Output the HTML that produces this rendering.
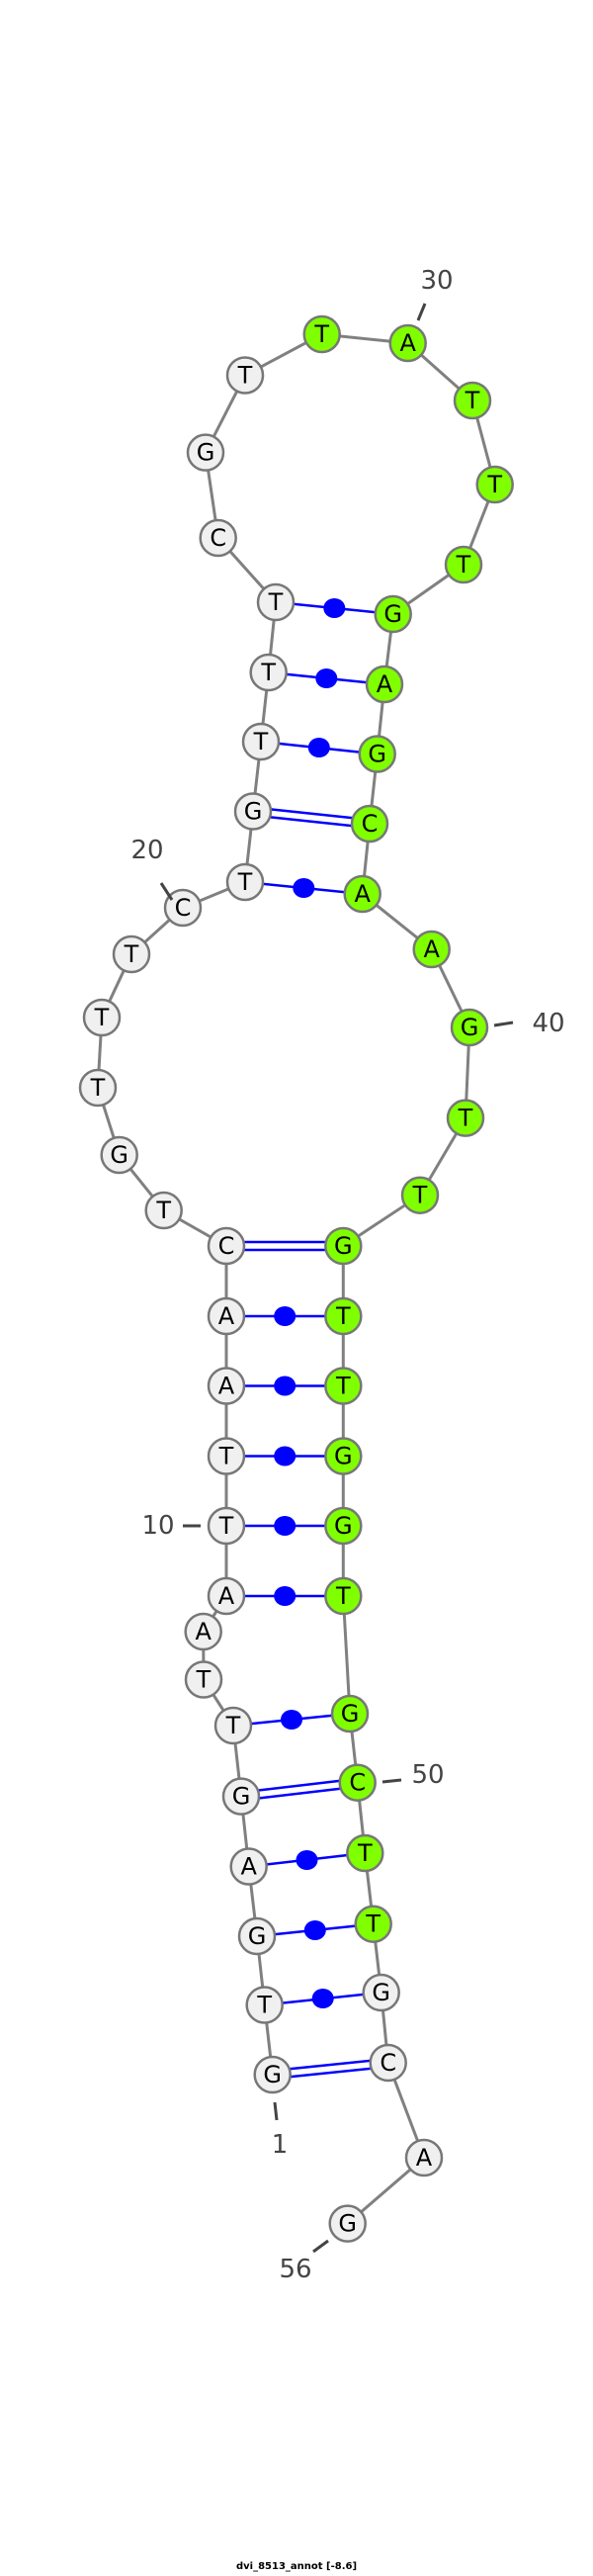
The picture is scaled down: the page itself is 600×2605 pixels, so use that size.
<!DOCTYPE html>
<html><head><meta charset="utf-8"><style>html,body{margin:0;padding:0;background:#fff}svg{display:block}</style></head><body>
<svg width="600" height="2605" viewBox="0 0 600 2605" xmlns="http://www.w3.org/2000/svg" font-family="'DejaVu Sans','Liberation Sans',sans-serif">
<g stroke="#808080" stroke-width="3" fill="none">
<polyline points="275.7,2098 267.7,2027.5 260,1958 251.7,1887.5 244,1816.6 236,1745 206,1698.5 205.7,1650 229,1614 229,1543 229,1472.5 229,1401.5 229,1331 229,1260 165.7,1224 120.7,1168 99,1100 103,1029 133,965 185,918 248,892 256,820.5 264,750 271.7,680 279,609 220.7,544 208,457.6 248,379.5 325.7,338 412.7,347 478,405 500.7,490 469,571 397.7,621 389,692 381.7,762.5 374,833 366.7,904 436.7,960 475,1039 471,1130.6 425,1208.7 347.3,1260 347.3,1331 347.3,1401.5 347.3,1472.5 347.3,1543 347.3,1614 354,1733 361.7,1802.7 369.3,1874 377.7,1945.7 385.7,2015 392.7,2086 429,2182 351.7,2248.6"/>
</g>
<g stroke="#0000ff" stroke-width="2.5" fill="none">
<line x1="267.7" y1="2027.5" x2="385.7" y2="2015"/>
<line x1="260" y1="1958" x2="377.7" y2="1945.7"/>
<line x1="251.7" y1="1887.5" x2="369.3" y2="1874"/>
<line x1="236" y1="1745" x2="354" y2="1733"/>
<line x1="229" y1="1614" x2="347.3" y2="1614"/>
<line x1="229" y1="1543" x2="347.3" y2="1543"/>
<line x1="229" y1="1472.5" x2="347.3" y2="1472.5"/>
<line x1="229" y1="1401.5" x2="347.3" y2="1401.5"/>
<line x1="229" y1="1331" x2="347.3" y2="1331"/>
<line x1="248" y1="892" x2="366.7" y2="904"/>
<line x1="264" y1="750" x2="381.7" y2="762.5"/>
<line x1="271.7" y1="680" x2="389" y2="692"/>
<line x1="279" y1="609" x2="397.7" y2="621"/>
<line x1="275.7" y1="2094" x2="392.7" y2="2082"/><line x1="275.7" y1="2102" x2="392.7" y2="2090"/>
<line x1="244" y1="1812.6" x2="361.7" y2="1798.7"/><line x1="244" y1="1820.6" x2="361.7" y2="1806.7"/>
<line x1="229" y1="1256" x2="347.3" y2="1256"/><line x1="229" y1="1264" x2="347.3" y2="1264"/>
<line x1="256" y1="816.5" x2="374" y2="829"/><line x1="256" y1="824.5" x2="374" y2="837"/>
</g>
<g fill="#0000ff">
<ellipse cx="326.7" cy="2021" rx="11" ry="10"/>
<ellipse cx="318.8" cy="1952" rx="11" ry="10"/>
<ellipse cx="310.5" cy="1881" rx="11" ry="10"/>
<ellipse cx="295" cy="1739" rx="11" ry="10"/>
<ellipse cx="288.2" cy="1614" rx="11" ry="10"/>
<ellipse cx="288.2" cy="1543" rx="11" ry="10"/>
<ellipse cx="288.2" cy="1472.5" rx="11" ry="10"/>
<ellipse cx="288.2" cy="1401.5" rx="11" ry="10"/>
<ellipse cx="288.2" cy="1331" rx="11" ry="10"/>
<ellipse cx="307.3" cy="898" rx="11" ry="10"/>
<ellipse cx="322.8" cy="756" rx="11" ry="10"/>
<ellipse cx="330.3" cy="686" rx="11" ry="10"/>
<ellipse cx="338.3" cy="615" rx="11" ry="10"/>
</g>
<g stroke="#777" stroke-width="2.5">
<g fill="#f0f0f0">
<circle cx="275.7" cy="2098" r="18"/><circle cx="267.7" cy="2027.5" r="18"/><circle cx="260" cy="1958" r="18"/><circle cx="251.7" cy="1887.5" r="18"/><circle cx="244" cy="1816.6" r="18"/><circle cx="236" cy="1745" r="18"/><circle cx="206" cy="1698.5" r="18"/><circle cx="205.7" cy="1650" r="18"/><circle cx="229" cy="1614" r="18"/><circle cx="229" cy="1543" r="18"/><circle cx="229" cy="1472.5" r="18"/><circle cx="229" cy="1401.5" r="18"/><circle cx="229" cy="1331" r="18"/><circle cx="229" cy="1260" r="18"/><circle cx="165.7" cy="1224" r="18"/><circle cx="120.7" cy="1168" r="18"/><circle cx="99" cy="1100" r="18"/><circle cx="103" cy="1029" r="18"/><circle cx="133" cy="965" r="18"/><circle cx="185" cy="918" r="18"/><circle cx="248" cy="892" r="18"/><circle cx="256" cy="820.5" r="18"/><circle cx="264" cy="750" r="18"/><circle cx="271.7" cy="680" r="18"/><circle cx="279" cy="609" r="18"/><circle cx="220.7" cy="544" r="18"/><circle cx="208" cy="457.6" r="18"/><circle cx="248" cy="379.5" r="18"/>
<circle cx="385.7" cy="2015" r="18"/><circle cx="392.7" cy="2086" r="18"/><circle cx="429" cy="2182" r="18"/><circle cx="351.7" cy="2248.6" r="18"/>
</g>
<g fill="#80ff00">
<circle cx="325.7" cy="338" r="18"/><circle cx="412.7" cy="347" r="18"/><circle cx="478" cy="405" r="18"/><circle cx="500.7" cy="490" r="18"/><circle cx="469" cy="571" r="18"/><circle cx="397.7" cy="621" r="18"/><circle cx="389" cy="692" r="18"/><circle cx="381.7" cy="762.5" r="18"/><circle cx="374" cy="833" r="18"/><circle cx="366.7" cy="904" r="18"/><circle cx="436.7" cy="960" r="18"/><circle cx="475" cy="1039" r="18"/><circle cx="471" cy="1130.6" r="18"/><circle cx="425" cy="1208.7" r="18"/><circle cx="347.3" cy="1260" r="18"/><circle cx="347.3" cy="1331" r="18"/><circle cx="347.3" cy="1401.5" r="18"/><circle cx="347.3" cy="1472.5" r="18"/><circle cx="347.3" cy="1543" r="18"/><circle cx="347.3" cy="1614" r="18"/><circle cx="354" cy="1733" r="18"/><circle cx="361.7" cy="1802.7" r="18"/><circle cx="369.3" cy="1874" r="18"/><circle cx="377.7" cy="1945.7" r="18"/>
</g>
</g>
<g font-size="24" text-anchor="middle" fill="#000" dominant-baseline="central">
<text x="275.7" y="2098">G</text><text x="267.7" y="2027.5">T</text><text x="260" y="1958">G</text><text x="251.7" y="1887.5">A</text><text x="244" y="1816.6">G</text><text x="236" y="1745">T</text><text x="206" y="1698.5">T</text><text x="205.7" y="1650">A</text><text x="229" y="1614">A</text><text x="229" y="1543">T</text><text x="229" y="1472.5">T</text><text x="229" y="1401.5">A</text><text x="229" y="1331">A</text><text x="229" y="1260">C</text><text x="165.7" y="1224">T</text><text x="120.7" y="1168">G</text><text x="99" y="1100">T</text><text x="103" y="1029">T</text><text x="133" y="965">T</text><text x="185" y="918">C</text><text x="248" y="892">T</text><text x="256" y="820.5">G</text><text x="264" y="750">T</text><text x="271.7" y="680">T</text><text x="279" y="609">T</text><text x="220.7" y="544">C</text><text x="208" y="457.6">G</text><text x="248" y="379.5">T</text>
<text x="325.7" y="338">T</text><text x="412.7" y="347">A</text><text x="478" y="405">T</text><text x="500.7" y="490">T</text><text x="469" y="571">T</text><text x="397.7" y="621">G</text><text x="389" y="692">A</text><text x="381.7" y="762.5">G</text><text x="374" y="833">C</text><text x="366.7" y="904">A</text><text x="436.7" y="960">A</text><text x="475" y="1039">G</text><text x="471" y="1130.6">T</text><text x="425" y="1208.7">T</text><text x="347.3" y="1260">G</text><text x="347.3" y="1331">T</text><text x="347.3" y="1401.5">T</text><text x="347.3" y="1472.5">G</text><text x="347.3" y="1543">G</text><text x="347.3" y="1614">T</text><text x="354" y="1733">G</text><text x="361.7" y="1802.7">C</text><text x="369.3" y="1874">T</text><text x="377.7" y="1945.7">T</text><text x="385.7" y="2015">G</text><text x="392.7" y="2086">C</text><text x="429" y="2182">A</text><text x="351.7" y="2248.6">G</text>
</g>
<g stroke="#444" stroke-width="3">
<line x1="430" y1="307" x2="423" y2="324"/>
<line x1="163" y1="893" x2="174" y2="910"/>
<line x1="185" y1="1543" x2="203" y2="1543"/>
<line x1="500" y1="1037" x2="519" y2="1034"/>
<line x1="387" y1="1802" x2="406" y2="1800"/>
<line x1="278" y1="2126" x2="280" y2="2144"/>
<line x1="317" y1="2277" x2="332" y2="2266"/>
</g>
<g font-size="26" fill="#444" text-anchor="middle" dominant-baseline="central">
<text x="442" y="284">30</text>
<text x="149" y="860">20</text>
<text x="160" y="1543">10</text>
<text x="555" y="1035">40</text>
<text x="433" y="1795">50</text>
<text x="283" y="2169">1</text>
<text x="299" y="2295">56</text>
</g>
<text x="300" y="2598" font-size="10" font-weight="bold" text-anchor="middle" fill="#000">dvi_8513_annot [-8.6]</text>
</svg>
</body></html>
